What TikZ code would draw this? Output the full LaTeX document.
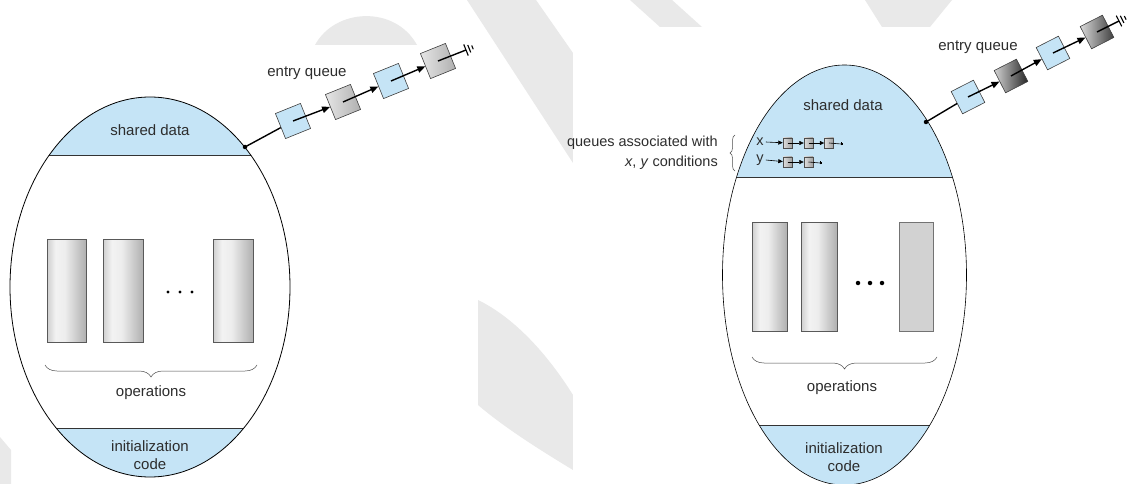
\documentclass[tikz,border=0pt]{standalone}
\usepackage{fontspec}
\setmainfont{Liberation Sans}
\usetikzlibrary{arrows.meta,decorations.pathreplacing,calc}
\definecolor{sdblue}{RGB}{197,228,246}
\definecolor{wm}{RGB}{233,233,233}
\definecolor{txt}{RGB}{45,45,45}
\pgfdeclarehorizontalshading{opbar}{100bp}{color(0bp)=(gray!38); color(25bp)=(gray!38); color(36bp)=(gray!10); color(48bp)=(gray!14); color(75bp)=(gray!62); color(100bp)=(gray!62)}
\tikzset{
  lbl/.style={font=\fontsize{15}{17}\selectfont, text=txt, inner sep=0pt},
  slbl/.style={font=\fontsize{14.5}{17}\selectfont, text=txt, inner sep=0pt},
  egg/.style={line width=0.8pt, draw=black},
  band/.style={line width=0.8pt, draw=black!80},
  opbox/.style={shading=opbar, draw=black!65, line width=0.6pt},
  qline/.style={line width=1.4pt, draw=black},
  qarrow/.style={qline, -{Triangle[length=8pt,width=6.5pt]}},
  qbox/.style={draw=black!75, line width=0.6pt, minimum size=27pt, inner sep=0pt},
  qblue/.style={qbox, fill=sdblue},
  qgray/.style={qbox, left color=gray!20, right color=gray!62},
  qdark/.style={qbox, left color=gray!35, right color=black!85},
  jdot/.style={circle, fill=black, inner sep=0pt, minimum size=4.5pt},
  sbox/.style={draw=black!70, line width=0.4pt, minimum width=9pt, minimum height=10pt, inner sep=0pt, left color=gray!25, right color=gray!75},
  sline/.style={line width=0.6pt, draw=black},
  sarrow/.style={sline, -{Triangle[length=4.5pt,width=4pt]}},
  obrace/.style={decorate, draw=black!70, line width=0.5pt},
  gnd/.style={line width=1.1pt, draw=black},
}
\begin{document}
\begin{tikzpicture}[x=1pt, y=-1pt]
\useasboundingbox (0,0) rectangle (1136,484);
\fill[white] (0,0) rectangle (1136,484);
% ---- faint background shapes ----
\fill[wm] (315,45) .. controls (335,8) and (395,5) .. (417,45) -- cycle;
\fill[wm] (467,0) -- (536,0) -- (573,53) -- (573,163) -- cycle;
\fill[wm] (478,300) .. controls (515,318) and (548,355) .. (573,395) -- (573,470) .. controls (540,450) and (505,428) .. (478,405) -- cycle;
\fill[wm] (630,0) -- (672,0) -- (702,27) -- (660,27) -- cycle;
\fill[wm] (865,0) -- (952,0) -- (930,27) -- (882,27) -- cycle;
\fill[wm] (0,437) -- (11,450) -- (11,484) -- (0,484) -- cycle;
\fill[white] (15,45) rectangle (478,484);
\fill[white] (573,27) rectangle (1136,484);

% =================== LEFT MONITOR ===================
\begin{scope}
  \clip (150,287) ellipse [x radius=140pt, y radius=190pt];
  \fill[sdblue] (0,0) rectangle (300,155);
  \fill[sdblue] (0,428) rectangle (300,500);
  \draw[band] (0,155) -- (300,155);
  \draw[band] (0,428) -- (300,428);
\end{scope}
\draw[egg] (150,287) ellipse [x radius=140pt, y radius=190pt];
\node[lbl] (sdL) at (150,130) {shared data};
\path[opbox] (47,239) rectangle (86,342);
\path[opbox] (103,239) rectangle (143,342);
\path[opbox] (213,239) rectangle (253,342);
\node[circle, fill=black, inner sep=0pt, minimum size=3.2pt] (dL1) at (168,292) {};
\node[circle, fill=black, inner sep=0pt, minimum size=3.2pt] (dL2) at (180,292) {};
\node[circle, fill=black, inner sep=0pt, minimum size=3.2pt] (dL3) at (192,292) {};
\draw[obrace, decoration={brace, amplitude=12pt, mirror}] (45,365) -- (257,365);
\node[lbl] (opL) at (151,393) {operations};
\node[lbl, align=center] (icL) at (150,455) {initialization\\[1pt]code};

% entry queue (left)
\node[lbl] (eqL) at (307,73) {entry queue};
\node[jdot] (jL) at (245,147) {};
\node[qblue, rotate=22] (qL1) at (293,121) {};
\node[qgray, rotate=22] (qL2) at (343,102) {};
\node[qblue, rotate=22] (qL3) at (391,81) {};
\node[qgray, rotate=22] (qL4) at (438,61) {};
\coordinate (eL) at (466,50);
\draw[qline] (jL.center) -- (qL1);
\draw[qarrow] (qL1.center) -- (qL2);
\draw[qarrow] (qL2.center) -- (qL3);
\draw[qarrow] (qL3.center) -- (qL4);
\draw[qline] (qL4.center) -- (eL);
\begin{scope}[shift={(eL)}, rotate=22]
  \draw[gnd] (0,6pt) -- (0,-6pt);
  \draw[gnd] (3.5pt,4pt) -- (3.5pt,-4pt);
  \draw[gnd] (7pt,2pt) -- (7pt,-2pt);
\end{scope}

% =================== RIGHT MONITOR ===================
\begin{scope}
  \clip (844.5,275) ellipse [x radius=122pt, y radius=210pt];
  \fill[sdblue] (700,0) rectangle (1000,177);
  \fill[sdblue] (700,425) rectangle (1000,500);
  \draw[band] (700,177) -- (1000,177);
  \draw[band] (700,425) -- (1000,425);
\end{scope}
\draw[egg, line width=0.6pt] (844.5,275) ellipse [x radius=122pt, y radius=210pt];
\node[lbl] (sdR) at (843,105) {shared data};
\path[opbox] (752,222) rectangle (787,331);
\path[opbox] (801,222) rectangle (837,331);
\path[draw=black!55, fill=gray!35, line width=0.6pt] (899,222) rectangle (933,331);
\node[circle, fill=black, inner sep=0pt, minimum size=4.5pt] (dR1) at (858,283) {};
\node[circle, fill=black, inner sep=0pt, minimum size=4.5pt] (dR2) at (870,283) {};
\node[circle, fill=black, inner sep=0pt, minimum size=4.5pt] (dR3) at (882,283) {};
\draw[obrace, decoration={brace, amplitude=12pt, mirror}] (752,357) -- (937,357);
\node[lbl] (opR) at (842,388) {operations};
\node[lbl, align=center] (icR) at (844,457) {initialization\\[1pt]code};

% condition queues
\node[slbl, anchor=east] (qa1) at (718,143) {queues associated with};
\node[slbl, anchor=east] (qa2) at (718,163) {\textit{x}, \textit{y} conditions};
\draw[obrace, decoration={brace, amplitude=5pt}] (735,171) -- (735,135);
\node[slbl] (cx) at (760,142) {x};
\node[slbl] (cy) at (760,160) {y};
\node[sbox] (x1) at (787.5,143) {};
\node[sbox] (x2) at (808.5,143) {};
\node[sbox] (x3) at (829,143) {};
\coordinate (xe) at (841,144);
\node[sbox] (y1) at (787.5,162) {};
\node[sbox] (y2) at (808.5,162) {};
\coordinate (ye) at (820,163);
\draw[sarrow] (cx.east) ++(2pt,0) -- (x1);
\draw[sarrow] (x1.center) -- (x2);
\draw[sarrow] (x2.center) -- (x3);
\draw[sline] (x3.center) -- (xe);
\draw[line width=0.5pt] (xe) ++(0,-1.5pt) -- ++(0,3pt) ++(1.5pt,-0.8pt) -- ++(0,-1.4pt);
\draw[sarrow] (cy.east) ++(2pt,0) -- (y1);
\draw[sarrow] (y1.center) -- (y2);
\draw[sline] (y2.center) -- (ye);
\draw[line width=0.5pt] (ye) ++(0,-1.5pt) -- ++(0,3pt) ++(1.5pt,-0.8pt) -- ++(0,-1.4pt);

% entry queue (right)
\node[lbl] (eqR) at (978,47) {entry queue};
\node[jdot] (jR) at (926,122) {};
\node[qblue, rotate=27, minimum size=25pt] (qR1) at (968,97) {};
\node[qdark, rotate=27, minimum size=25pt] (qR2) at (1011,76) {};
\node[qblue, rotate=27, minimum size=25pt] (qR3) at (1053,53) {};
\node[qdark, rotate=27, minimum size=25pt, left color=gray!30, right color=black!75] (qR4) at (1097,32) {};
\coordinate (eR) at (1119,21);
\draw[qline] (jR.center) -- (qR1);
\draw[qarrow] (qR1.center) -- (qR2);
\draw[qarrow] (qR2.center) -- (qR3);
\draw[qarrow] (qR3.center) -- (qR4);
\draw[qline] (qR4.center) -- (eR);
\begin{scope}[shift={(eR)}, rotate=27]
  \draw[gnd] (0,6pt) -- (0,-6pt);
  \draw[gnd] (3.5pt,4pt) -- (3.5pt,-4pt);
  \draw[gnd] (7pt,2pt) -- (7pt,-2pt);
\end{scope}
\end{tikzpicture}
\end{document}
